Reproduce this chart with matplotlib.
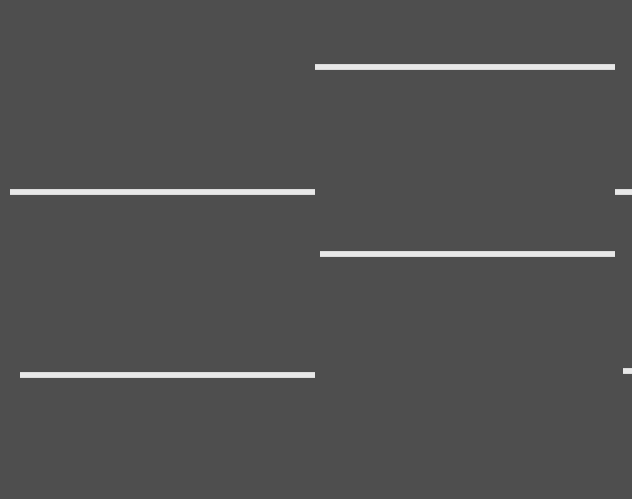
import numpy as np
import matplotlib.pyplot as plt

# Oscilloscope trace, time in divisions (0-10), level in divisions (0-8)
upper_start = [0.16, 4.98, 9.73]
upper_end = [4.98, 9.73, 10.0]
upper_level = [4.92, 6.93, 4.92]

lower_start = [0.32, 5.06, 9.85]
lower_end = [4.98, 9.73, 10.0]
lower_level = [1.98, 3.92, 2.05]

fig = plt.figure(figsize=(6.32, 4.99), dpi=100)
ax = fig.add_axes([0, 0, 1, 1])
ax.set_facecolor("#4e4e4e")

ax.hlines(upper_level, upper_start, upper_end, colors="#e8e8e8", linewidth=4.2)
ax.hlines(lower_level, lower_start, lower_end, colors="#e8e8e8", linewidth=4.2)

ax.set_xlim(0, 10)
ax.set_ylim(0, 8)
ax.axis("off")
fig.patch.set_facecolor("#4e4e4e")

plt.savefig("out.png", dpi=100, facecolor=fig.get_facecolor())
